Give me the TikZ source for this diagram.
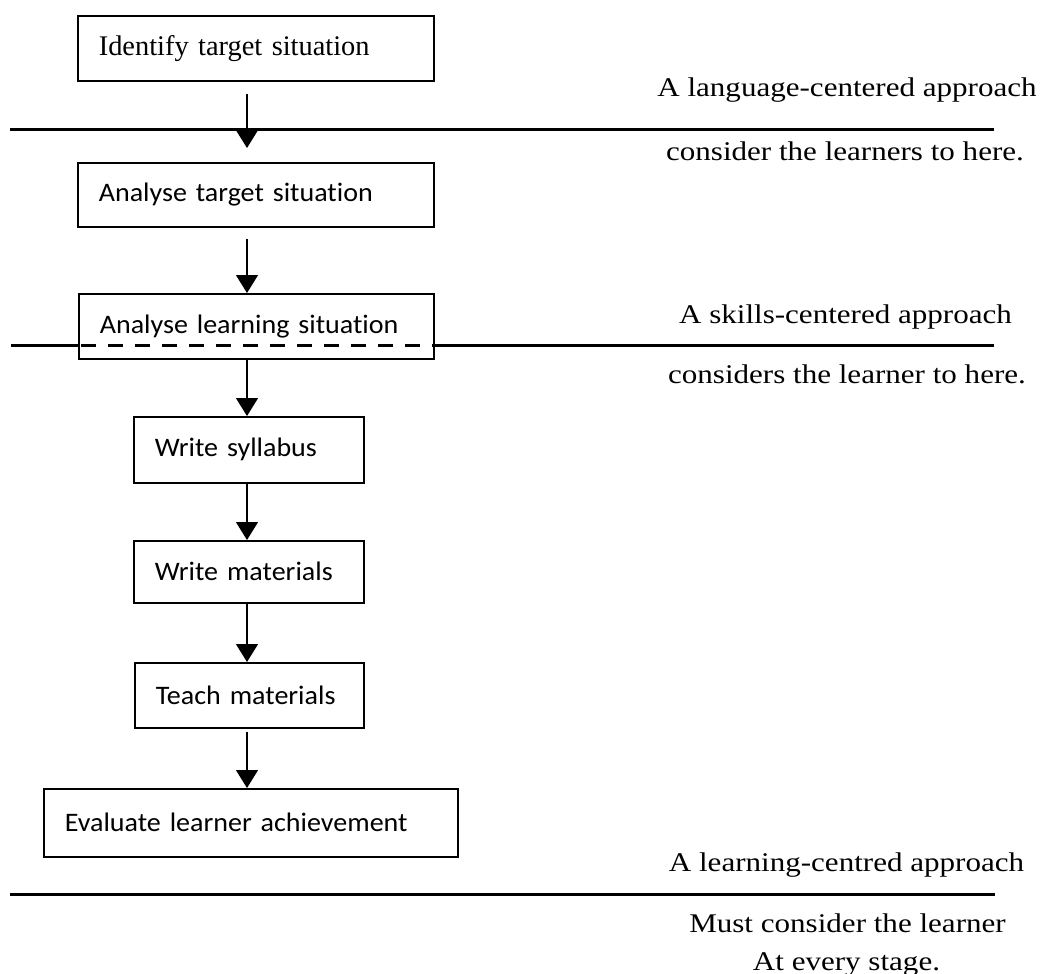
\documentclass[tikz,border=0pt]{standalone}
\usepackage{fontspec}
\setmainfont{Liberation Serif}
\newfontfamily\rtfont[FakeStretch=1.15]{Liberation Serif}
\newfontfamily\boxsans[FakeStretch=1.05,Ligatures={NoCommon}]{Carlito}
\newfontfamily\boxserif{Liberation Serif}
\usetikzlibrary{arrows.meta}
\begin{document}
\begin{tikzpicture}[x=1pt,y=-1pt,
  stepbox/.style={draw=black,line width=1.6pt,rectangle,anchor=north west,
    inner xsep=21pt,inner ysep=0pt,align=left,
    font=\boxsans\fontsize{26.7}{30}\selectfont},
  serifbox/.style={stepbox,font=\boxserif\fontsize{28.4}{32}\selectfont},
  flow/.style={line width=1.4pt,-{Triangle[width=22pt,length=18pt]}},
  divider/.style={line width=3pt},
  dashdivider/.style={line width=3pt,dash pattern=on 15pt off 12pt},
  sidetext/.style={anchor=base,inner sep=0pt,font=\rtfont\fontsize{27}{30}\selectfont}]
\useasboundingbox[fill=white] (0,0) rectangle (1042,974);
\coordinate (ax) at (247,0);
% boxes
\node[serifbox,minimum width=356pt,text width=314pt,minimum height=65pt] (b1) at (77,15) {Identify target situation};
\node[stepbox,minimum width=356pt,text width=314pt,minimum height=64pt] (b2) at (77,162) {Analyse target situation};
\node[stepbox,minimum width=355pt,text width=313pt,minimum height=65pt] (b3) at (78,293) {Analyse learning situation};
\node[stepbox,minimum width=230pt,text width=188pt,minimum height=66pt] (b4) at (133,416) {Write syllabus};
\node[stepbox,minimum width=230pt,text width=188pt,minimum height=62pt] (b5) at (133,540) {Write materials};
\node[stepbox,minimum width=229pt,text width=187pt,minimum height=65pt] (b6) at (134,662) {Teach materials};
\node[stepbox,minimum width=414pt,text width=372pt,minimum height=68pt] (b7) at (43,788) {Evaluate learner achievement};
% divider lines
\coordinate (l1a) at (10,129.5);
\coordinate (l1b) at (994,129.5);
\draw[divider] (l1a) -- (l1b);
\coordinate (l2a) at (11,345);
\coordinate (l2b) at (994,345);
\draw[divider] (l2a) -- (l2a -| b3.west);
\draw[dashdivider] (l2a -| b3.west) ++(3,0) -- (l2a -| b3.east);
\draw[divider] (l2a -| b3.east) -- (l2b);
\coordinate (l3a) at (10,894);
\coordinate (l3b) at (995,894);
\draw[divider] (l3a) -- (l3b);
% connectors
\draw[flow,shorten <=12pt,shorten >=14pt] (b1.south -| ax) -- (b2.north -| ax);
\draw[flow,shorten <=11pt] (b2.south -| ax) -- (b3.north -| ax);
\draw[flow] (b3.south -| ax) -- (b4.north -| ax);
\draw[flow] (b4.south -| ax) -- (b5.north -| ax);
\draw[flow] (b5.south -| ax) -- (b6.north -| ax);
\draw[flow,shorten <=3pt] (b6.south -| ax) -- (b7.north -| ax);
% side texts
\node[sidetext] (t1) at (847,96) {A language-centered approach};
\node[sidetext] (t2) at (845,160) {consider the learners to here.};
\node[sidetext] (t3) at (845.5,323) {A skills-centered approach};
\node[sidetext] (t4) at (847,383) {considers the learner to here.};
\node[sidetext] (t5) at (846.5,871) {A learning-centred approach};
\node[sidetext] (t6) at (847.5,932) {Must consider the learner};
\node[sidetext] (t7) at (846.5,970) {At every stage.};
\end{tikzpicture}
\end{document}
